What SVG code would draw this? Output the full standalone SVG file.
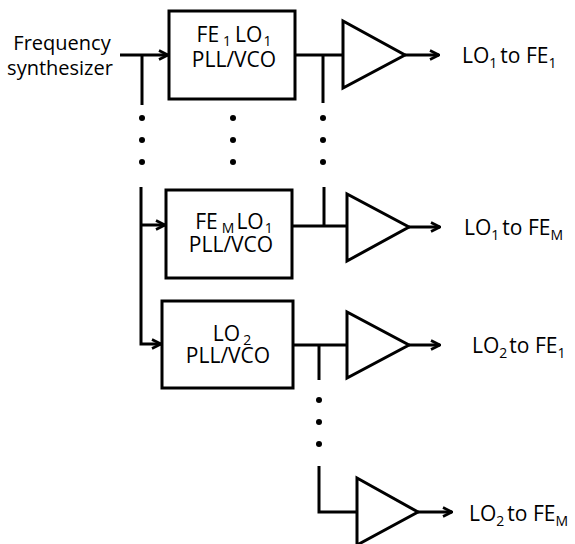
<svg xmlns="http://www.w3.org/2000/svg" width="575" height="544" viewBox="0 0 575 544">
<defs>
<marker id="arr" viewBox="0 0 12 12" refX="11" refY="6" markerWidth="12" markerHeight="12" markerUnits="userSpaceOnUse" orient="auto">
<path d="M2,1.5 L11,6 L2,10.5" fill="none" stroke="#000" stroke-width="2.6"/>
</marker>
<style>
.ln{fill:none;stroke:#000;stroke-width:3}
.bx{fill:#fff;stroke:#000;stroke-width:3}
.amp{fill:#fff;stroke:#000;stroke-width:3;stroke-linejoin:miter}
.t{font-family:"Open Sans","Noto Sans",sans-serif;font-size:21px;fill:#000}
.tc{text-anchor:middle}
.s{font-size:14px}
.d{fill:#000}
</style>
</defs>
<rect width="575" height="544" fill="#fff"/>
<g id="connectors">
<path class="ln" d="M120,55 H168" marker-end="url(#arr)"/>
<path class="ln" d="M142,55 V105"/>
<path class="ln" d="M141,187 V344 H161" marker-end="url(#arr)"/>
<path class="ln" d="M141,225 H165" marker-end="url(#arr)"/>
<path class="ln" d="M294,55 H343"/>
<path class="ln" d="M323,55 V103"/>
<path class="ln" d="M405,55 H439" marker-end="url(#arr)"/>
<path class="ln" d="M292,226 H347"/>
<path class="ln" d="M324,187 V226"/>
<path class="ln" d="M409,227 H440" marker-end="url(#arr)"/>
<path class="ln" d="M293,345 H347"/>
<path class="ln" d="M319,345 V380"/>
<path class="ln" d="M409,345 H440" marker-end="url(#arr)"/>
<path class="ln" d="M319,466 V512 H357"/>
<path class="ln" d="M418,512 H452" marker-end="url(#arr)"/>
<g class="d">
<circle cx="142" cy="118" r="3"/><circle cx="142" cy="140" r="3"/><circle cx="142" cy="162" r="3"/>
<circle cx="233" cy="118" r="3"/><circle cx="233" cy="140" r="3"/><circle cx="233" cy="162" r="3"/>
<circle cx="323" cy="118" r="3"/><circle cx="323" cy="140" r="3"/><circle cx="323" cy="162" r="3"/>
<circle cx="319" cy="400" r="3"/><circle cx="319" cy="422" r="3"/><circle cx="319" cy="444" r="3"/>
</g>
</g>
<g id="source">
<text class="t" x="62" y="50" text-anchor="middle" style="font-size:20px">Frequency</text>
<text class="t" x="60" y="75" text-anchor="middle" style="font-size:20px">synthesizer</text>
</g>
<g id="pll1">
<rect class="bx" x="169" y="11" width="126" height="88"/>
<text class="t tc" x="234" y="42">FE<tspan class="s" dx="4" dy="4">1</tspan><tspan dx="4" dy="-4">LO</tspan><tspan class="s" dx="1" dy="4">1</tspan></text>
<text class="t tc" x="234" y="67">PLL/VCO</text>
</g>
<g id="pll2">
<rect class="bx" x="166" y="190" width="126" height="88"/>
<text class="t tc" x="234" y="229">FE<tspan class="s" dx="4" dy="4">M</tspan><tspan dx="2" dy="-4">LO</tspan><tspan class="s" dx="1" dy="4">1</tspan></text>
<text class="t tc" x="231" y="252">PLL/VCO</text>
</g>
<g id="pll3">
<rect class="bx" x="162" y="301" width="131" height="87"/>
<text class="t tc" x="232" y="341">LO<tspan class="s" dx="3" dy="4">2</tspan></text>
<text class="t tc" x="228" y="363">PLL/VCO</text>
</g>
<g id="amp1">
<path class="amp" d="M343,21 V88 L405,55 Z"/>
<text class="t" x="462" y="63">LO<tspan class="s" dy="5">1</tspan><tspan dx="3" dy="-5">to FE</tspan><tspan class="s" dy="5">1</tspan></text>
</g>
<g id="amp2">
<path class="amp" d="M347,194 V261 L409,227 Z"/>
<text class="t" x="464" y="235">LO<tspan class="s" dy="5">1</tspan><tspan dx="3" dy="-5">to FE</tspan><tspan class="s" dy="5">M</tspan></text>
</g>
<g id="amp3">
<path class="amp" d="M347,312 V378 L409,345 Z"/>
<text class="t" x="472" y="353">LO<tspan class="s" dy="5">2</tspan><tspan dx="2" dy="-5">to FE</tspan><tspan class="s" dy="5">1</tspan></text>
</g>
<g id="amp4">
<path class="amp" d="M357,478 V545 L418,512 Z"/>
<text class="t" x="469" y="521">LO<tspan class="s" dy="5">2</tspan><tspan dx="3" dy="-5">to FE</tspan><tspan class="s" dy="5">M</tspan></text>
</g>
</svg>
